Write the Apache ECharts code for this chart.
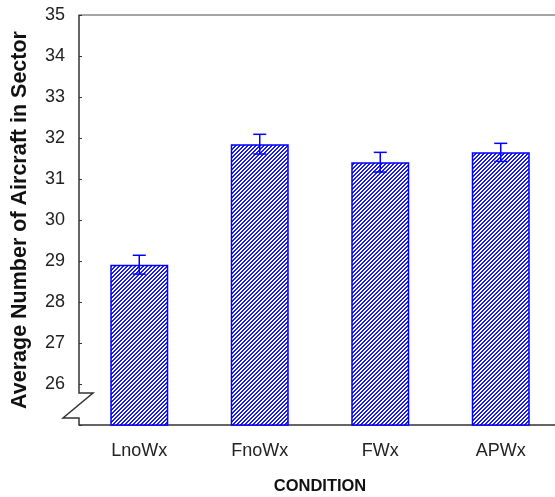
<!DOCTYPE html>
<html>
<head>
<meta charset="utf-8">
<script src="https://cdn.jsdelivr.net/npm/echarts@6/dist/echarts.min.js"></script>
<style>
html,body{margin:0;padding:0;background:#fff;}
#chart{width:555px;height:497px;}
</style>
</head>
<body>
<div id="chart"></div>
<script>
var categories = ['LnoWx', 'FnoWx', 'FWx', 'APWx'];
var means = [28.91, 31.85, 31.41, 31.65];
var errors = [0.23, 0.24, 0.24, 0.22];
var yMin = 25, yMax = 35, yStep = 1;
var breakTop = 25.78, breakBottom = 25.17;

var FONT = '"Liberation Sans", Arial, sans-serif';

// hatch pattern
var pc = document.createElement('canvas');
pc.width = 4; pc.height = 4;
var pctx = pc.getContext('2d');
pctx.fillStyle = '#ffffff';
pctx.fillRect(0, 0, 4, 4);
pctx.fillStyle = '#1a1aff';
for (var py = 0; py < 4; py++) {
  for (var px = 0; px < 4; px++) {
    if ((px + py) % 4 < 2) pctx.fillRect(px, py, 1, 1);
  }
}

var errData = categories.map(function (c, i) {
  return [i, means[i] - errors[i], means[i] + errors[i]];
});

var chart = echarts.init(document.getElementById('chart'), null, {renderer: 'canvas'});
chart.setOption({
  animation: false,
  grid: {left: 79, top: 15, width: 482, height: 410, outerBoundsMode: 'none'},
  xAxis: [{
    type: 'category',
    data: categories,
    position: 'bottom',
    axisTick: {show: false},
    axisLine: {lineStyle: {color: '#333', width: 1.5}},
    axisLabel: {fontSize: 18, color: '#222', margin: 17, fontFamily: FONT},
    name: 'CONDITION',
    nameLocation: 'middle',
    nameGap: 53,
    nameTextStyle: {fontSize: 16.5, fontWeight: 'bold', color: '#111', fontFamily: FONT}
  }, {
    type: 'category',
    data: categories,
    position: 'top',
    axisTick: {show: false},
    axisLabel: {show: false},
    axisLine: {lineStyle: {color: '#888', width: 1.5}}
  }],
  yAxis: {
    type: 'value',
    min: yMin,
    max: yMax,
    interval: yStep,
    splitLine: {show: false},
    axisLine: {show: false},
    axisTick: {show: true, inside: true, length: 3, lineStyle: {color: '#333'}},
    axisLabel: {
      fontSize: 18, color: '#222', margin: 14, fontFamily: FONT,
      formatter: function (v) { return v === yMin ? '' : String(v); }
    },
    name: 'Average Number of Aircraft in Sector',
    nameLocation: 'middle',
    nameRotate: 90,
    nameGap: 48,
    nameTextStyle: {fontSize: 21.5, fontWeight: 'bold', color: '#111', fontFamily: FONT}
  },
  series: [{
    type: 'bar',
    data: means,
    barWidth: 58,
    itemStyle: {
      color: {image: pc, repeat: 'repeat'},
      borderColor: '#0000ff',
      borderWidth: 1.5
    }
  }, {
    type: 'custom',
    data: errData,
    clip: false,
    renderItem: function (params, api) {
      var x = api.coord([api.value(0), api.value(1)])[0];
      var lo = api.coord([api.value(0), api.value(1)])[1];
      var hi = api.coord([api.value(0), api.value(2)])[1];
      var w = 6.5;
      var st = {stroke: '#0000ff', lineWidth: 1.5};
      return {
        type: 'group',
        children: [
          {type: 'line', shape: {x1: x, y1: lo, x2: x, y2: hi}, style: st},
          {type: 'line', shape: {x1: x - w, y1: hi, x2: x + w, y2: hi}, style: st},
          {type: 'line', shape: {x1: x - w, y1: lo, x2: x + w, y2: lo}, style: st}
        ]
      };
    },
    z: 5
  }, {
    type: 'custom',
    data: [[0, yMax]],
    clip: false,
    silent: true,
    renderItem: function (params, api) {
      var x0 = params.coordSys.x;
      var yT = api.coord([0, yMax])[1];
      var yB1 = api.coord([0, breakTop])[1];
      var yB2 = api.coord([0, breakBottom])[1];
      var yE = api.coord([0, yMin])[1];
      return {
        type: 'polyline',
        shape: {points: [[x0, yT], [x0, yB1], [x0 + 14, yB1], [x0 - 16, yB2], [x0, yB2], [x0, yE]]},
        style: {stroke: '#333', lineWidth: 1.5, fill: null}
      };
    },
    z: 6
  }]
});
</script>
</body>
</html>
